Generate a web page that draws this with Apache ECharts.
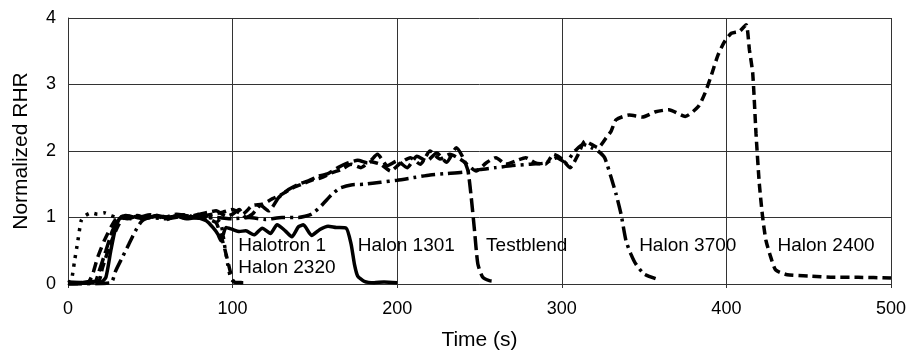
<!DOCTYPE html>
<html>
	<head>
		<meta charset="utf-8">
		<title>Normalized RHR</title>
		<script src="https://cdn.jsdelivr.net/npm/echarts@6/dist/echarts.min.js"></script>
	</head>
	<body style="margin: 0px; background: #fff;">
		<div id="main" style="width: 909px;height:358px;"></div>
		<script type="text/javascript">
			// [time (s), normalized RHR]
			var halotron1 = [[0,0.0],[12,0.02],[15,0.15],[18,0.4],[22,0.65],[26,0.85],[29,0.97],[33,1.02],[38,0.98],[42,1.03],[48,0.99],[54,1.02],[60,0.97],[66,1.03],[72,1.0],[78,1.05],[82,1.02],[86,0.97],[90,0.92],[93,0.72],[95,0.55],[97,0.35],[99,0.15],[101,0.03],[108,0.02]];
			var halon2320 = [[0,0.02],[2,0.05],[4,0.35],[6,0.65],[8,0.95],[10,1.02],[14,1.07],[18,1.05],[22,1.07],[26,1.03],[30,1.0],[35,1.02],[40,0.99],[45,1.02],[50,1.0],[55,1.01],[60,0.99],[65,1.02],[70,1.0],[75,1.01],[80,0.99],[85,1.0],[90,0.98],[93,0.9],[95,0.6],[97,0.3],[99,0.08],[102,0.02],[110,0.02]];
			var halon1301 = [[0,0.03],[8,0.02],[14,0.04],[20,0.03],[23,0.1],[26,0.5],[29,0.85],[32,1.0],[36,0.98],[42,1.02],[48,0.99],[54,1.03],[60,1.0],[66,1.02],[72,0.98],[78,1.0],[84,0.95],[88,0.85],[91,0.75],[93,0.65],[96,0.85],[100,0.82],[104,0.79],[108,0.8],[113,0.74],[118,0.84],[123,0.76],[127,0.89],[132,0.8],[136,0.71],[140,0.86],[143,0.89],[148,0.73],[153,0.82],[158,0.87],[163,0.85],[169,0.84],[172,0.6],[174,0.3],[176,0.12],[180,0.04],[186,0.02],[192,0.03],[200,0.02]];
			var testblend = [[0,0.02],[16,0.03],[19,0.2],[23,0.5],[27,0.8],[31,0.97],[35,1.03],[42,1.0],[50,1.04],[58,1.0],[66,1.05],[74,1.02],[82,1.06],[90,1.1],[96,1.02],[100,1.05],[104,1.12],[108,1.0],[112,1.05],[117,1.18],[122,1.1],[128,1.3],[134,1.42],[140,1.5],[146,1.55],[152,1.62],[158,1.66],[164,1.75],[170,1.82],[176,1.86],[182,1.82],[188,1.95],[194,1.78],[200,1.85],[206,1.75],[212,1.92],[218,1.85],[224,1.97],[230,1.83],[236,2.05],[240,1.9],[243,1.7],[245,1.3],[247,0.8],[249,0.3],[252,0.1],[256,0.05],[260,0.04]];
			var halon3700 = [[0,0.0],[26,0.02],[29,0.2],[33,0.4],[37,0.6],[41,0.8],[45,0.95],[50,1.0],[60,0.98],[70,1.02],[80,0.99],[90,1.0],[100,0.98],[110,1.0],[120,0.97],[130,1.0],[140,1.0],[148,1.05],[154,1.18],[160,1.34],[165,1.44],[172,1.49],[180,1.5],[190,1.53],[200,1.56],[210,1.6],[220,1.64],[230,1.66],[240,1.68],[250,1.72],[260,1.75],[270,1.78],[280,1.8],[290,1.82],[297,1.9],[302,1.83],[308,2.0],[313,2.1],[318,2.05],[322,2.0],[326,1.9],[330,1.6],[333,1.35],[336,1.05],[339,0.65],[342,0.45],[345,0.3],[350,0.15],[357,0.08]];
			var halon2400 = [[0,0.01],[18,0.02],[21,0.25],[25,0.55],[29,0.8],[33,0.98],[38,1.02],[46,0.98],[54,1.03],[62,1.0],[70,1.04],[78,1.0],[86,1.04],[94,1.08],[100,1.12],[106,1.05],[112,1.18],[118,1.2],[124,1.28],[130,1.35],[136,1.44],[142,1.5],[148,1.56],[154,1.6],[160,1.67],[166,1.72],[172,1.8],[178,1.75],[184,1.84],[190,1.8],[196,1.7],[202,1.82],[208,1.9],[214,1.8],[220,2.0],[226,1.88],[232,1.95],[240,1.85],[248,1.7],[254,1.82],[260,1.9],[266,1.8],[272,1.85],[278,1.9],[284,1.82],[290,1.8],[295,1.95],[300,1.88],[305,1.75],[310,1.95],[314,2.15],[318,2.1],[322,2.05],[327,2.2],[330,2.3],[333,2.47],[341,2.54],[349,2.51],[357,2.59],[365,2.62],[375,2.52],[383,2.67],[387,2.87],[391,3.15],[395,3.45],[399,3.65],[403,3.77],[408,3.8],[412,3.9],[414,3.52],[416,3.17],[418,2.26],[420,1.51],[422,1.01],[424,0.66],[427,0.4],[430,0.21],[437,0.14],[450,0.12],[465,0.1],[480,0.1],[500,0.09]];

			// in-plot labels: [time, RHR, text]
			var labels = [[103.5,0.57,'Halotron 1'],[103.5,0.24,'Halon 2320'],[176,0.57,'Halon 1301'],[254,0.57,'Testblend'],[347,0.57,'Halon 3700'],[431,0.57,'Halon 2400']];

			var font = 'Liberation Sans, Arial, sans-serif';

			function line(name, data, type) {
				return {
					name: name,
					type: 'line',
					data: data,
					symbol: 'none',
					smooth: 0.2,
					lineStyle: {color: '#000', width: 3.5, type: type}
				};
			}

			var chart = echarts.init(document.getElementById('main'));
			chart.setOption({
				backgroundColor: '#fff',
				animation: false,
				grid: {left: 68, right: 17, top: 18, bottom: 74},
				xAxis: {
					type: 'value',
					min: 0, max: 500, interval: 100,
					name: 'Time (s)',
					nameLocation: 'middle',
					nameGap: 46,
					nameTextStyle: {color: '#000', fontSize: 21, fontFamily: font},
					axisLine: {show: true, lineStyle: {color: '#333', width: 1}},
					axisTick: {show: true, length: 4, lineStyle: {color: '#333'}},
					axisLabel: {color: '#000', fontSize: 18, fontFamily: font, margin: 16},
					splitLine: {show: true, lineStyle: {color: '#333', width: 1}}
				},
				yAxis: {
					type: 'value',
					min: 0, max: 4, interval: 1,
					name: 'Normalized RHR',
					nameLocation: 'middle',
					nameGap: 36,
					nameTextStyle: {color: '#000', fontSize: 21, fontFamily: font},
					axisLine: {show: true, lineStyle: {color: '#333', width: 1}},
					axisTick: {show: false},
					axisLabel: {color: '#000', fontSize: 18, fontFamily: font, margin: 12},
					splitLine: {show: true, lineStyle: {color: '#333', width: 1}}
				},
				series: [
					line('Halotron 1', halotron1, [10, 6]),
					line('Halon 2320', halon2320, [3, 6]),
					line('Halon 1301', halon1301, 'solid'),
					line('Testblend', testblend, [14, 5]),
					line('Halon 3700', halon3700, [14, 5, 3, 5]),
					line('Halon 2400', halon2400, [9, 5]),
					{
						type: 'scatter',
						data: labels,
						symbolSize: 0,
						silent: true,
						itemStyle: {color: '#000', opacity: 1},
						label: {
							show: true,
							position: 'right',
							distance: 0,
							color: '#000',
							opacity: 1,
							fontSize: 19,
							fontFamily: font,
							formatter: function(p) { return p.value[2]; }
						}
					}
				]
			});
		</script>
	</body>
</html>
